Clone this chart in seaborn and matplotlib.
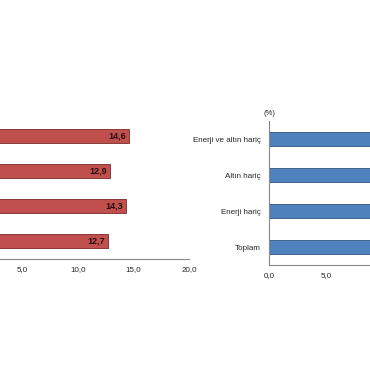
import matplotlib
matplotlib.use('Agg')
import matplotlib.pyplot as plt
import seaborn as sns
import pandas as pd
import numpy as np

sns.set_style('white')
plt.rcParams['font.family'] = ['Liberation Sans', 'DejaVu Sans']

# Data (right-hand values run past the crop, estimated)
categories = ['Enerji ve altın hariç', 'Altın hariç', 'Enerji hariç', 'Toplam']
left_values = [14.6, 12.9, 14.3, 12.7]
right_values = [13.2, 12.1, 12.6, 11.4]
x_ticks = [0, 5, 10, 15, 20]
x_tick_labels = ['0,0', '5,0', '10,0', '15,0', '20,0']

left_df = pd.DataFrame({'kategori': categories, 'deger': left_values})
right_df = pd.DataFrame({'kategori': categories, 'deger': right_values})

fig = plt.figure(figsize=(3.7, 3.8), dpi=100)
W, H = 370, 380


def px_axes(x0, y_top, x1, y_bot):
    return fig.add_axes([x0 / W, 1 - y_bot / H, (x1 - x0) / W, (y_bot - y_top) / H])


def style_axes(ax):
    for side in ['top', 'right']:
        ax.spines[side].set_visible(False)
    for side in ['left', 'bottom']:
        ax.spines[side].set_color('#888888')
        ax.spines[side].set_linewidth(0.8)
    ax.set_xlim(0, 20)
    ax.set_ylim(3.5, -0.5)
    ax.set_xticks(x_ticks)
    ax.set_xticklabels(x_tick_labels, fontsize=5.8)
    ax.tick_params(axis='x', direction='out', length=3, width=0.6, color='#888888', pad=2)
    ax.set_yticks(np.arange(-0.5, 4.0, 1.0), minor=True)
    ax.tick_params(axis='y', which='minor', direction='out', length=3, width=0.6, color='#888888')
    ax.tick_params(axis='y', which='major', length=0, pad=6, labelsize=5.8)
    ax.set_xlabel('')
    ax.set_ylabel('')


# Left chart (cut at the left edge of the crop)
ax1 = px_axes(-33, 118, 189, 259)
sns.barplot(data=left_df, y='kategori', x='deger', orient='h', color='#C0504D',
            saturation=1, width=0.4, edgecolor='#7a2a28', linewidth=0.6, ax=ax1)
style_axes(ax1)
# labels that fall outside the crop are not drawn
ax1.set_yticklabels([])
ax1.set_xticklabels([''] + x_tick_labels[1:])
for i, v in enumerate(left_values):
    ax1.text(v - 0.25, i, f"{v:.1f}".replace('.', ','), ha='right', va='center',
             fontsize=6.5, fontweight='bold', color='#2b0a0a')

# Right chart (cut at the right edge of the crop)
ax2 = px_axes(269, 121, 497, 265)
sns.barplot(data=right_df, y='kategori', x='deger', orient='h', color='#4F81BD',
            saturation=1, width=0.4, edgecolor='#2f5580', linewidth=0.6, ax=ax2)
style_axes(ax2)
ax2.set_xticklabels(x_tick_labels[:2] + [''] * 3)
ax2.text(0, 1.03, '(%)', transform=ax2.transAxes, ha='center', va='bottom', fontsize=5.5)

fig.savefig('out.png', dpi=100)
